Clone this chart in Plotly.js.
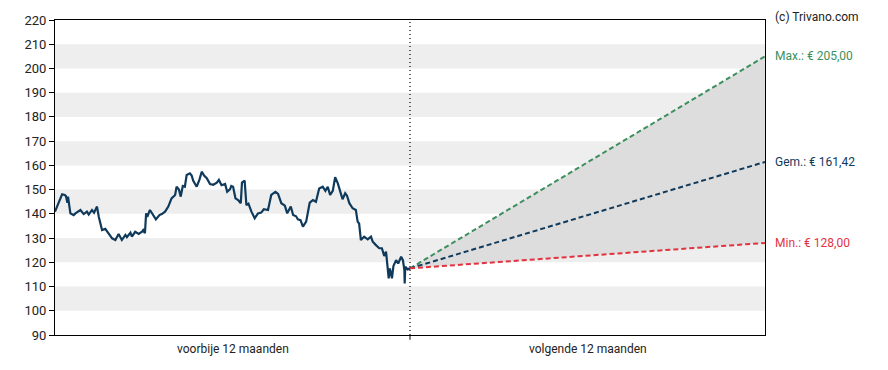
<!DOCTYPE html>
<html>
<head>
<meta charset="utf-8">
<script src="https://cdn.plot.ly/plotly-3.0.1.min.js"></script>
<style>html,body{margin:0;padding:0;background:#fff;}#chart{width:888px;height:370px;}</style>
</head>
<body>
<div id="chart"></div>
<script>
// past 12 months: position in months (0..12) and price
const pastMonths = [0.00,0.24,0.33,0.37,0.42,0.44,0.52,0.63,0.69,0.86,0.97,1.08,1.14,1.25,1.32,1.42,1.48,1.59,1.70,1.82,1.93,2.04,2.15,2.26,2.38,2.43,2.55,2.60,2.71,2.83,2.94,2.98,3.04,3.08,3.12,3.21,3.32,3.41,3.53,3.61,3.72,3.83,3.94,4.06,4.11,4.19,4.25,4.32,4.39,4.45,4.56,4.62,4.67,4.79,4.88,4.96,5.04,5.13,5.24,5.35,5.47,5.54,5.63,5.75,5.82,5.92,5.96,6.02,6.10,6.19,6.28,6.32,6.41,6.47,6.54,6.64,6.75,6.86,6.97,7.06,7.20,7.31,7.45,7.54,7.65,7.77,7.85,7.97,8.05,8.15,8.21,8.30,8.38,8.49,8.61,8.72,8.82,8.89,8.93,9.05,9.14,9.22,9.30,9.39,9.47,9.56,9.63,9.72,9.81,9.87,9.95,10.06,10.17,10.23,10.28,10.34,10.45,10.57,10.68,10.74,10.85,10.96,11.05,11.13,11.19,11.24,11.28,11.32,11.39,11.44,11.53,11.60,11.70,11.76,11.81,11.82,11.84,11.92,12.00];
const pastPrice = [140.9,148.1,147.8,147.3,144.6,147.1,140.2,139.5,140.2,141.6,139.9,140.9,139.7,141.6,140.5,143.0,138.8,133.3,133.8,132.0,129.9,129.2,131.7,129.2,131.3,130.4,132.2,130.6,132.6,131.7,132.6,133.3,132.0,140.2,138.8,141.6,139.5,137.7,139.5,139.9,140.9,143.0,146.4,147.8,151.2,150.0,147.1,151.5,151.2,156.0,156.7,155.8,153.7,151.2,154.0,157.4,155.8,154.7,152.3,152.0,152.9,154.0,151.8,152.3,149.1,150.2,151.5,151.2,146.4,145.7,144.4,152.9,153.7,143.6,144.2,140.9,138.2,140.2,140.5,141.9,141.6,147.8,149.1,148.2,144.4,143.4,140.2,143.0,139.5,139.0,137.7,137.4,134.7,136.8,144.6,145.7,145.0,149.1,150.5,151.2,149.5,151.2,147.8,149.5,155.1,152.6,149.5,146.0,148.5,147.5,144.4,142.3,141.6,136.8,136.0,129.2,130.6,129.5,130.6,128.5,127.1,125.8,125.8,122.6,124.4,117.5,113.4,117.5,113.4,118.5,120.9,119.5,122.3,120.9,116.8,111.3,118.2,117.1,117.5];

// forecast for next 12 months
const forecastMonths = [12, 24];
const startPrice = 117.5;
const maxTarget = 205.00;
const avgTarget = 161.42;
const minTarget = 128.00;

const yTicks = [90,100,110,120,130,140,150,160,170,180,190,200,210,220];
const bandRanges = [[100,110],[120,130],[140,150],[160,170],[180,190],[200,210]];
const periodLabels = ["voorbije 12 maanden", "volgende 12 maanden"];
const periodPositions = [6, 18];
const labelTexts = ["Max.: € 205,00", "Gem.: € 161,42", "Min.: € 128,00"];

const NAVY = '#0f3a5c', GREEN = '#3d8f5d', RED = '#e3323f';

const shapes = bandRanges.map(b => ({
  type:'rect', xref:'paper', yref:'y', x0:0, x1:1, y0:b[0], y1:b[1],
  fillcolor:'#eeeeee', line:{width:0}, layer:'below'
}));
shapes.push({type:'line', xref:'x', yref:'paper', x0:12, x1:12, y0:0, y1:1,
  line:{color:'#000', width:1.2, dash:'1px,3px'}});
shapes.push({type:'line', xref:'x', yref:'paper', x0:12, x1:12, y0:0, y1:-0.015,
  line:{color:'#000', width:1}});

const traces = [
  {x:forecastMonths, y:[startPrice, minTarget], mode:'lines', line:{width:0}, hoverinfo:'skip', showlegend:false},
  {x:forecastMonths, y:[startPrice, maxTarget], mode:'lines', line:{width:0}, fill:'tonexty', fillcolor:'#dddddd', hoverinfo:'skip', showlegend:false},
  {x:forecastMonths, y:[startPrice, maxTarget], mode:'lines', line:{color:GREEN, width:2, dash:'5px,3px'}, showlegend:false},
  {x:forecastMonths, y:[startPrice, avgTarget], mode:'lines', line:{color:NAVY, width:2, dash:'5px,3px'}, showlegend:false},
  {x:forecastMonths, y:[startPrice, minTarget], mode:'lines', line:{color:RED, width:2, dash:'5px,3px'}, showlegend:false},
  {x:pastMonths, y:pastPrice, mode:'lines', line:{color:NAVY, width:2.2}, showlegend:false}
];

const font = {family:'Roboto, Arial, sans-serif', size:12, color:'#222'};
const annotations = [
  {xref:'paper', yref:'y', x:1, xshift:8, y:maxTarget, text:labelTexts[0], showarrow:false, xanchor:'left', font:{family:font.family, size:12, color:GREEN}},
  {xref:'paper', yref:'y', x:1, xshift:8, y:avgTarget, text:labelTexts[1], showarrow:false, xanchor:'left', font:{family:font.family, size:12, color:NAVY}},
  {xref:'paper', yref:'y', x:1, xshift:8, y:minTarget, text:labelTexts[2], showarrow:false, xanchor:'left', font:{family:font.family, size:12, color:RED}},
  {xref:'paper', yref:'paper', x:1, xshift:8, y:1, yshift:12, text:'(c) Trivano.com', showarrow:false, xanchor:'left', font:{family:font.family, size:12, color:'#222'}}
];
periodLabels.forEach((t,i) => annotations.push({xref:'x', yref:'paper', x:periodPositions[i], y:0, yshift:-14, yanchor:'middle', text:t, showarrow:false, xanchor:'center', font:font}));

const layout = {
  width:888, height:370,
  margin:{l:55, r:123, t:20, b:35},
  paper_bgcolor:'#fff', plot_bgcolor:'#fff',
  font:font,
  showlegend:false,
  xaxis:{range:[0,24], showgrid:false, zeroline:false, showticklabels:false, ticks:'',
    showline:true, linecolor:'#000', linewidth:1, mirror:true, fixedrange:true},
  yaxis:{range:[90,220], tickvals:yTicks, showgrid:false, zeroline:false, ticks:'outside', ticklen:5,
    tickcolor:'#000', showline:true, linecolor:'#000', linewidth:1, mirror:true,
    tickfont:{family:font.family, size:13, color:'#222'}, fixedrange:true},
  shapes:shapes,
  annotations:annotations
};

Plotly.newPlot('chart', traces, layout, {displayModeBar:false, staticPlot:true});
</script>
</body>
</html>
